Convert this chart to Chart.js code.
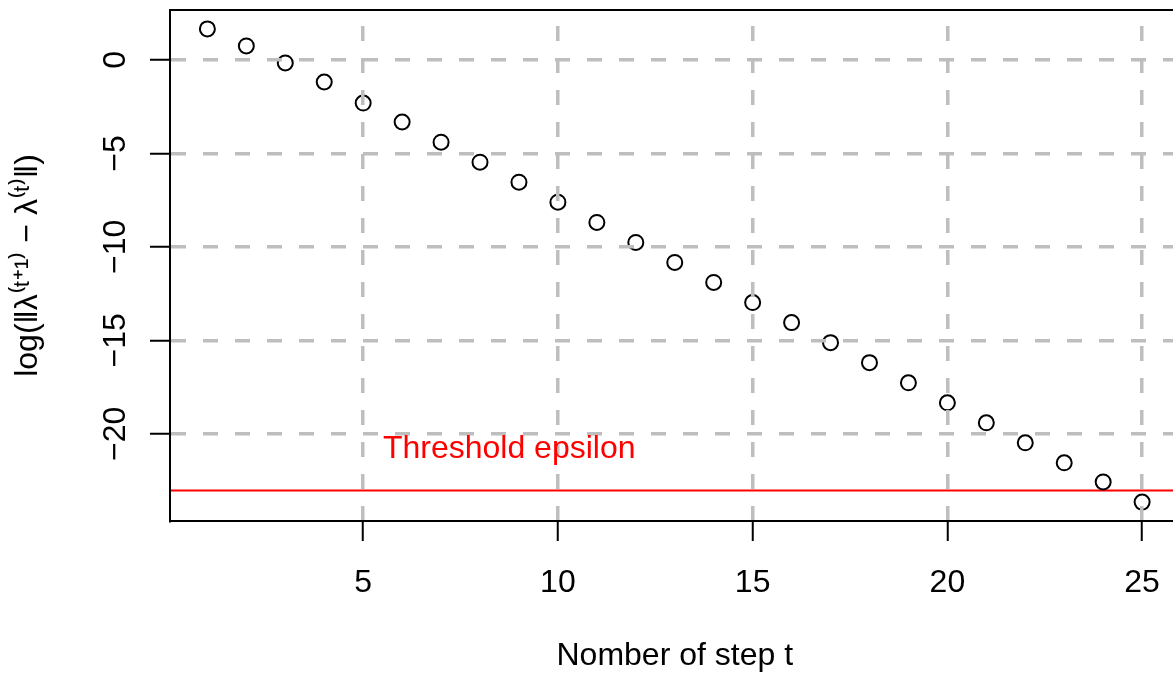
<!DOCTYPE html>
<html>
<head>
<meta charset="utf-8">
<script src="https://cdn.jsdelivr.net/npm/chart.js@4/dist/chart.umd.min.js"></script>
<style>
  html, body { margin: 0; padding: 0; background: #fff; overflow: hidden; }
  #wrap { width: 1189px; height: 675px; }
</style>
</head>
<body>
<div id="wrap"><canvas id="chart" width="1189" height="675"></canvas></div>
<script>
// convergence of the multiplier: log of the step-to-step difference
const steps = [1, 2, 3, 4, 5, 6, 7, 8, 9, 10, 11, 12, 13, 14, 15, 16, 17, 18, 19, 20, 21, 22, 23, 24, 25];
const logDiff = [1.66, 0.75, -0.16, -1.18, -2.31, -3.32, -4.40, -5.47, -6.54, -7.61, -8.69, -9.76, -10.83,
  -11.90, -12.98, -14.05, -15.12, -16.19, -17.27, -18.34, -19.41, -20.48, -21.55, -22.57, -23.65];
const epsilonLog = -23.03; // log(1e-10)

const xTicks = [5, 10, 15, 20, 25];
const yTicks = [-20, -15, -10, -5, 0];
const xRange = [0.04, 25.96];
const yRange = [-24.66, 2.67];

const epsLabel = 'Threshold epsilon';
const epsLabelAt = [8.75, -21.3];
const xTitle = 'Nomber of step t';
const yTitle = 'log(‖λ⁽ᵗ⁺¹⁾ − λ⁽ᵗ⁾‖)';

const FONT = '"Liberation Sans", Arial, Helvetica, sans-serif';
const FSIZE = 32;
const minus = v => String(v).replace('-', '\u2212');

// box around the plot region, tick labels (y ones rotated) and the threshold caption
const extras = {
  id: 'extras',
  afterDraw(chart) {
    const {ctx, chartArea: a, scales: {x, y}} = chart;
    ctx.save();
    ctx.strokeStyle = '#000';
    ctx.lineWidth = 2;
    ctx.strokeRect(a.left, a.top, a.right - a.left, a.bottom - a.top);

    ctx.fillStyle = '#000';
    ctx.font = FSIZE + 'px ' + FONT;
    ctx.textAlign = 'center';
    ctx.textBaseline = 'alphabetic';
    xTicks.forEach(v => {
      ctx.fillText(minus(v), x.getPixelForValue(v), x.top + 71);
    });
    yTicks.forEach(v => {
      ctx.save();
      ctx.translate(y.right - 45, y.getPixelForValue(v));
      ctx.rotate(-Math.PI / 2);
      ctx.fillText(minus(v), 0, 0);
      ctx.restore();
    });

    ctx.fillStyle = '#ff0000';
    ctx.fillText(epsLabel, x.getPixelForValue(epsLabelAt[0]), y.getPixelForValue(epsLabelAt[1]));
    ctx.restore();
  }
};

const gridOpts = {
  color: '#bebebe',
  lineWidth: 3.5,
  z: 1,
  drawTicks: true,
  tickLength: 20,
  tickColor: '#000',
  tickWidth: 2,
  tickBorderDash: []
};

new Chart(document.getElementById('chart').getContext('2d'), {
  type: 'scatter',
  data: {
    datasets: [{
      label: 'log diff',
      data: steps.map((s, i) => ({x: s, y: logDiff[i]})),
      pointStyle: 'circle',
      pointRadius: 7.5,
      pointBorderWidth: 2,
      borderColor: '#000',
      backgroundColor: 'rgba(0,0,0,0)'
    }, {
      type: 'line',
      label: 'epsilon',
      data: [{x: xRange[0], y: epsilonLog}, {x: xRange[1], y: epsilonLog}],
      borderColor: '#ff0000',
      borderWidth: 2,
      pointRadius: 0
    }]
  },
  options: {
    responsive: false,
    animation: false,
    layout: { padding: { top: 10, right: 1, left: 0, bottom: 0 } },
    plugins: { legend: { display: false }, tooltip: { enabled: false } },
    scales: {
      x: {
        type: 'linear',
        min: xRange[0],
        max: xRange[1],
        afterBuildTicks: s => { s.ticks = xTicks.map(v => ({value: v})); },
        afterFit: s => { s.height = 154; },
        grid: gridOpts,
        border: { display: true, color: '#000', width: 2, z: 1, dash: [15, 17], dashOffset: 16 },
        ticks: { display: false },
        title: { display: true, text: xTitle, color: '#000', font: { family: FONT, size: FSIZE }, padding: { top: 0, bottom: 0 } }
      },
      y: {
        type: 'linear',
        min: yRange[0],
        max: yRange[1],
        afterBuildTicks: s => { s.ticks = yTicks.map(v => ({value: v})); },
        afterFit: s => { s.width = 170; },
        grid: gridOpts,
        border: { display: true, color: '#000', width: 2, z: 1, dash: [15, 17], dashOffset: 0 },
        ticks: { display: false },
        title: { display: true, text: yTitle, color: '#000', font: { family: FONT, size: FSIZE }, padding: { top: 9, bottom: 0 } }
      }
    }
  },
  plugins: [extras]
});
</script>
</body>
</html>
